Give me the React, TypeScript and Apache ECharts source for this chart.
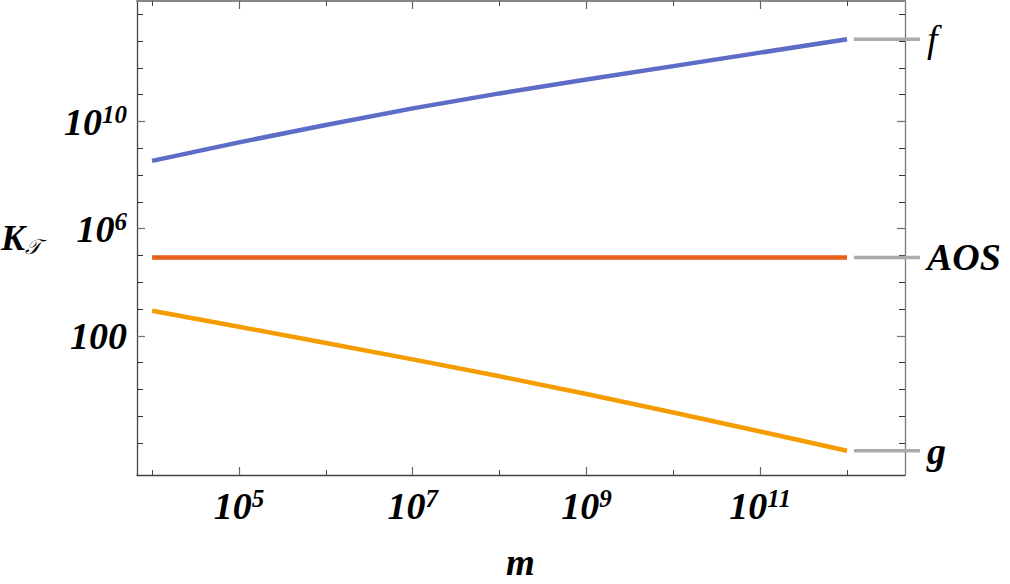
import React, { useEffect, useRef } from 'react';
import * as echarts from 'echarts';

// ---- data ----
const massValues = [1e4, 1e5, 1e6, 1e7, 1e8, 1e9, 1e10, 1e11, 1e12];
const fValues = [3.39e8, 1.66e9, 7.41e9, 3.09e10, 1.12e11, 3.72e11, 1.17e12, 3.72e12, 1.17e13];
const aosValues = [8.45e4, 8.45e4, 8.45e4, 8.45e4, 8.45e4, 8.45e4, 8.45e4, 8.45e4, 8.45e4];
const gValues = [871, 219, 53.7, 13.2, 3.09, 0.676, 0.138, 0.0269, 0.00513];

const seriesNames = ['f', 'AOS', 'g'];
const seriesColors = ['#5D6CC6', '#E8601A', '#F49C00'];

const xMinorTicks = [1e4, 1e6, 1e8, 1e10, 1e12];
const xMajorTicks = [1e5, 1e7, 1e9, 1e11];
const yMinorTicks = [1e-2, 1e-1, 1, 10, 1e3, 1e4, 1e5, 1e7, 1e8, 1e9, 1e11, 1e12, 1e13, 1e14];
const yMajorTicks = [1e2, 1e6, 1e10];

const xRange = [6.7e3, 4.65e12];
const yRange = [6.4e-4, 3.15e14];
const calloutStartX = 1.2e12;

const FONT = '"Liberation Serif", "Times New Roman", serif';

const powerLabel = (v: number) => {
  const e = Math.round(Math.log10(v));
  if (e === 2) return '{b|100}';
  return `{b|10}{s|${e}}`;
};

const labelRich = {
  b: { fontSize: 38, fontFamily: FONT, fontStyle: 'italic', fontWeight: 'bold', color: '#000', lineHeight: 40 },
  s: { fontSize: 25, fontFamily: FONT, fontStyle: 'italic', fontWeight: 'bold', color: '#000', lineHeight: 20, verticalAlign: 'top' },
};

export default function App() {
  const ref = useRef<HTMLDivElement>(null);

  useEffect(() => {
    if (!ref.current) return;
    const chart = echarts.init(ref.current, undefined, { renderer: 'svg' });

    const baseX = {
      type: 'log',
      min: xRange[0],
      max: xRange[1],
      splitLine: { show: false },
      minorTick: { show: false },
      minorSplitLine: { show: false },
    };
    const baseY = {
      type: 'log',
      min: yRange[0],
      max: yRange[1],
      splitLine: { show: false },
      minorTick: { show: false },
      minorSplitLine: { show: false },
    };

    const allValues = [fValues, aosValues, gValues];

    const makeSeries = (i: number, values: number[]) => ({
      type: 'line',
      name: seriesNames[i],
      data: massValues.map((m, k) => [m, values[k]]),
      symbol: 'none',
      showSymbol: false,
      clip: false,
      lineStyle: { width: 4.5, color: seriesColors[i] },
      itemStyle: { color: seriesColors[i] },
    });

    const axisNames = [
      {
        type: 'text',
        left: 506,
        top: 544,
        style: {
          text: 'm',
          font: `italic bold 37px ${FONT}`,
          lineHeight: 30,
          fill: '#000',
        },
      },
      {
        type: 'text',
        left: 1,
        top: 220,
        style: {
          text: '{k|K}{t|𝒯}',
          rich: {
            k: { fontSize: 36, fontFamily: FONT, fontStyle: 'italic', fontWeight: 'bold', fill: '#000', lineHeight: 38 },
            t: { fontSize: 21, fontFamily: '"DejaVu Serif", "DejaVu Sans", serif', fontStyle: 'italic', fill: '#000', lineHeight: 14, verticalAlign: 'bottom' },
          },
        },
      },
    ];

    chart.setOption({
      animation: false,
      backgroundColor: '#fff',
      grid: { left: 137, right: 105, top: 1, bottom: 109, containLabel: false },
      xAxis: [
        {
          ...baseX,
          position: 'bottom',
          axisLine: { show: true, lineStyle: { color: '#444', width: 1.3 } },
          axisTick: { show: true, inside: true, length: 5, customValues: xMinorTicks, lineStyle: { color: '#444', width: 1 } },
          axisLabel: { show: true, customValues: xMajorTicks, formatter: powerLabel, rich: labelRich, margin: 11 },
        },
        {
          ...baseX,
          position: 'top',
          axisLine: { show: true, lineStyle: { color: '#888', width: 2 } },
          axisTick: { show: true, inside: true, length: 5, customValues: xMinorTicks, lineStyle: { color: '#444', width: 1 } },
          axisLabel: { show: false },
        },
        {
          ...baseX,
          position: 'bottom',
          axisLine: { show: false },
          axisTick: { show: true, inside: true, length: 8, customValues: xMajorTicks, lineStyle: { color: '#666', width: 1.2 } },
          axisLabel: { show: false },
        },
        {
          ...baseX,
          position: 'top',
          axisLine: { show: false },
          axisTick: { show: true, inside: true, length: 8, customValues: xMajorTicks, lineStyle: { color: '#666', width: 1.2 } },
          axisLabel: { show: false },
        },
      ],
      yAxis: [
        {
          ...baseY,
          position: 'left',
          axisLine: { show: true, lineStyle: { color: '#444', width: 1.3 } },
          axisTick: { show: true, inside: true, length: 6, customValues: yMinorTicks, lineStyle: { color: '#333', width: 1 } },
          axisLabel: { show: true, customValues: yMajorTicks, formatter: powerLabel, rich: labelRich, margin: 10 },
        },
        {
          ...baseY,
          position: 'right',
          axisLine: { show: true, lineStyle: { color: '#777', width: 1.3 } },
          axisTick: { show: true, inside: true, length: 6, customValues: yMinorTicks, lineStyle: { color: '#333', width: 1 } },
          axisLabel: { show: false },
        },
        {
          ...baseY,
          position: 'left',
          axisLine: { show: false },
          axisTick: { show: true, inside: true, length: 8, customValues: yMajorTicks, lineStyle: { color: '#777', width: 1.3 } },
          axisLabel: { show: false },
        },
        {
          ...baseY,
          position: 'right',
          axisLine: { show: false },
          axisTick: { show: true, inside: true, length: 8, customValues: yMajorTicks, lineStyle: { color: '#777', width: 1.3 } },
          axisLabel: { show: false },
        },
      ],
      graphic: axisNames,
      series: [makeSeries(0, fValues), makeSeries(1, aosValues), makeSeries(2, gValues)],
    });

    // callout lines + labels, positioned through the chart's own scales
    const callouts: any[] = [];
    allValues.forEach((values, i) => {
      const last = values[values.length - 1];
      const p = chart.convertToPixel({ xAxisIndex: 0, yAxisIndex: 0 }, [calloutStartX, last]) as number[];
      if (!p) return;
      const x0 = p[0];
      const y0 = p[1];
      callouts.push({
        type: 'line',
        silent: true,
        shape: { x1: x0, y1: y0, x2: x0 + 66, y2: y0 },
        style: { stroke: '#ABABAB', lineWidth: 3.5 },
        z: 10,
      });
      callouts.push({
        type: 'text',
        silent: true,
        x: x0 + 73,
        y: y0,
        style: {
          text: seriesNames[i],
          font: `italic ${i === 0 ? 'normal' : 'bold'} 38px ${FONT}`,
          fill: '#000',
          textAlign: 'left',
          textVerticalAlign: 'middle',
        },
        z: 10,
      });
    });
    chart.setOption({ graphic: [...axisNames, ...callouts] });

    return () => chart.dispose();
  }, []);

  return (
    <div
      ref={ref}
      style={{ position: 'fixed', left: 0, top: 0, width: 1010, height: 584, background: '#fff' }}
    />
  );
}
